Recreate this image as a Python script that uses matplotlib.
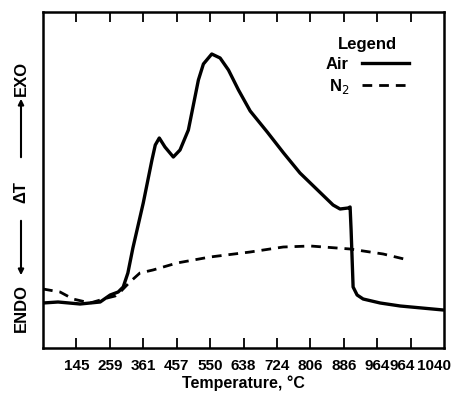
import matplotlib
matplotlib.use('Agg')
import matplotlib.pyplot as plt
from matplotlib.lines import Line2D
from matplotlib.patches import FancyArrowPatch

# Tick labels (as printed on the original chart)
tick_labels = ['145', '259', '361', '457', '550', '638', '724', '806', '886', '964', '964', '1040']
# last two labels are squeezed in on the original
label_pos = [1, 2, 3, 4, 5, 6, 7, 8, 9, 10, 10.75, 11.7]
tick_pos = list(range(1, 12))

# Air curve (x in tick-index units, y in arbitrary delta-T units)
air_x = [0.00, 0.45, 1.11, 1.41, 1.71, 2.01, 2.25, 2.40, 2.54, 2.69, 3.00, 3.26, 3.36,
         3.48, 3.65, 3.90, 4.10, 4.35, 4.50, 4.65, 4.80, 5.05, 5.30, 5.55, 5.85, 6.20,
         6.71, 7.20, 7.69, 8.68, 8.89, 9.13, 9.19, 9.22, 9.28, 9.40, 9.58, 10.09, 10.69, 11.98]
air_y = [45, 46, 44, 45, 46, 53, 56, 61, 75, 100, 145, 188, 203,
         210, 201, 191, 198, 218, 243, 268, 284, 294, 290, 278, 258, 237,
         216, 195, 175, 143, 139, 140, 141, 118, 61, 53, 49, 45, 42, 38]

# N2 curve
n2_x = [0.00, 0.51, 0.90, 1.41, 1.92, 2.16, 2.31, 2.60, 2.90, 3.29, 4.01, 5.00, 6.20,
        7.19, 8.00, 9.19, 10.18, 10.93]
n2_y = [59, 56, 49, 45, 50, 52, 56, 66, 75, 78, 85, 91, 96, 101, 102, 99, 94, 88]

font = 'Liberation Sans'

fig = plt.figure(figsize=(4.61, 3.94), dpi=100)
ax = fig.add_axes([43 / 461, 46 / 394, 401 / 461, 336 / 394])

ax.plot(air_x, air_y, color='black', lw=2.4, label='Air',
        solid_joinstyle='round', solid_capstyle='round')
ax.plot(n2_x, n2_y, color='black', lw=2.0, dashes=(3.5, 2.5), label='N$_2$')

ax.set_xlim(0, 12)
ax.set_ylim(0, 336)
# tick marks (major, unlabelled) and labels (minor, no marks)
ax.xaxis.remove_overlapping_locs = False
ax.set_xticks(tick_pos)
ax.set_xticklabels([])
ax.set_xticks(label_pos, minor=True)
ax.set_xticklabels(tick_labels, minor=True, fontfamily=font, fontweight='bold', fontsize=11)
ax.set_yticks([])
ax.tick_params(axis='x', which='major', direction='in', length=7, width=1.3, top=True)
ax.tick_params(axis='x', which='minor', length=0, pad=8)
for s in ax.spines.values():
    s.set_linewidth(1.8)

ax.set_xlabel('Temperature, °C', fontfamily=font, fontweight='bold', fontsize=11.5, labelpad=2)

# Legend with label on the left and line on the right
handles = [Line2D([], [], color='black', lw=2.4),
           Line2D([], [], color='black', lw=2.0, dashes=(3.5, 2.5))]
leg = ax.legend(handles, ['Air', 'N$_2$'], title='Legend', frameon=False,
                markerfirst=False, loc='upper right', bbox_to_anchor=(0.95, 0.97),
                handlelength=2.8, prop={'family': font, 'weight': 'bold', 'size': 12},
                labelspacing=0.3)
leg.get_title().set_fontfamily(font)
leg.get_title().set_fontweight('bold')
leg.get_title().set_fontsize(12)

# Y axis label: ENDO <-- dT --> EXO
tkw = dict(rotation=90, ha='center', va='center', fontfamily=font, fontweight='bold', fontsize=12)
fig.text(21 / 461, 1 - 308 / 394, 'ENDO', **tkw)
fig.text(21 / 461, 1 - 192 / 394, 'ΔT', **tkw)
fig.text(21 / 461, 1 - 78 / 394, 'EXO', **tkw)
akw = dict(arrowstyle='-|>', color='black', lw=1.5, mutation_scale=8)
fig.add_artist(FancyArrowPatch((21 / 461, 1 - 218 / 394), (21 / 461, 1 - 278 / 394),
                               transform=fig.transFigure, **akw))
fig.add_artist(FancyArrowPatch((21 / 461, 1 - 160 / 394), (21 / 461, 1 - 96 / 394),
                               transform=fig.transFigure, **akw))

fig.savefig('out.png', dpi=100)
